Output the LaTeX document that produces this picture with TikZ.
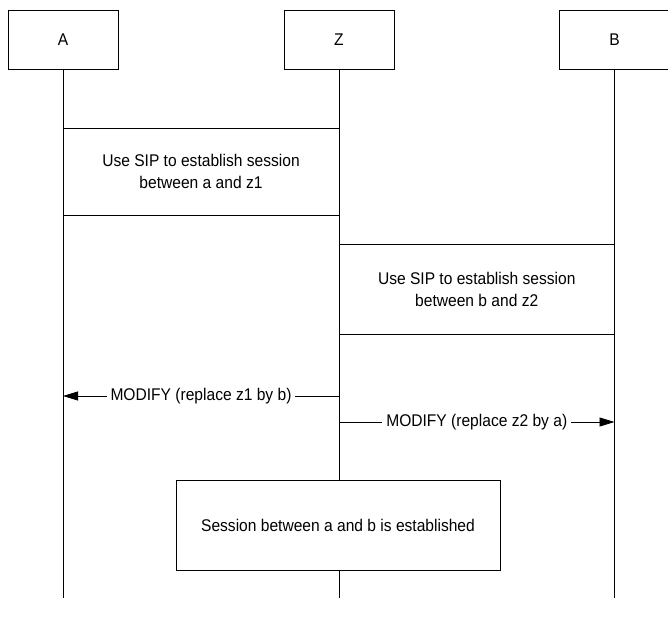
\documentclass[tikz,border=0pt]{standalone}
\usepackage{fontspec}
\setmainfont[FakeStretch=0.92]{Liberation Sans}
\usetikzlibrary{arrows.meta}
\begin{document}
\begin{tikzpicture}[x=1bp,y=-1bp,
  line width=0.8bp,
  every node/.style={font=\fontsize{17}{22}\selectfont},
  entity/.style={draw, fill=white, minimum width=110bp, minimum height=59bp, inner sep=0pt},
  phase/.style={draw, fill=white, inner sep=0pt, align=center},
  msg/.style={-{Triangle[length=15bp,width=9bp]}},
  msglabel/.style={fill=white, inner sep=4bp}]
  \useasboundingbox (0,0) rectangle (668,626);
  % participants
  \node[entity] (A) at (63,39.5) {A};
  \node[entity] (Z) at (339,39.5) {Z};
  \node[entity] (B) at (614.5,39.5) {B};
  % lifeline ends
  \coordinate (Aend) at (63,598);
  \coordinate (Zend) at (339,598);
  \coordinate (Bend) at (614.5,598);
  \draw (A.south) -- (Aend);
  \draw (Z.south) -- (Zend);
  \draw (B.south) -- (Bend);
  % session set-up phases
  \node[phase, minimum width=276bp, minimum height=87bp] (s1) at (201,171.5)
    {Use SIP to establish session\\between a and z1};
  \node[phase, minimum width=275.5bp, minimum height=90bp] (s2) at (476.75,289)
    {Use SIP to establish session\\between b and z2};
  % MODIFY messages
  \coordinate (m1z) at (339,396);
  \coordinate (m1a) at (63,396);
  \draw[msg] (m1z) -- (m1a) node[msglabel, pos=0.5] (l1) {MODIFY (replace z1 by b)};
  \coordinate (m2z) at (339,422);
  \coordinate (m2b) at (614.5,422);
  \draw[msg] (m2z) -- (m2b) node[msglabel, pos=0.5] (l2) {MODIFY (replace z2 by a)};
  % result
  \node[phase, minimum width=324bp, minimum height=90bp] (s3) at (338,525)
    {Session between a and b is established};
\end{tikzpicture}
\end{document}
